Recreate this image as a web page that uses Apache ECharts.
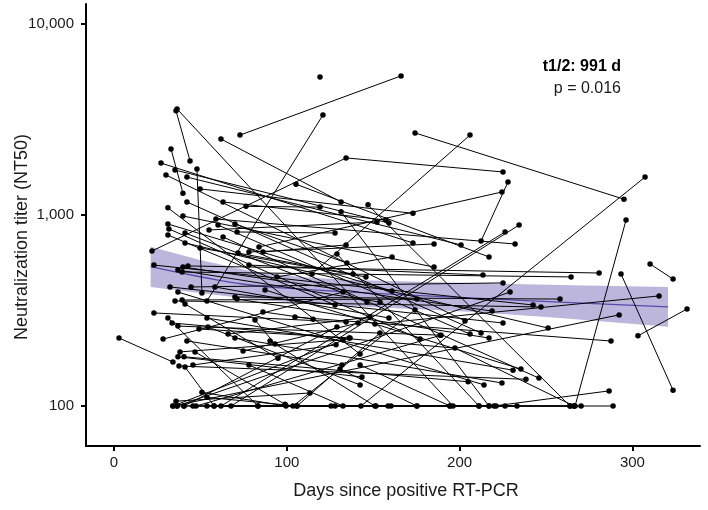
<!DOCTYPE html>
<html>
<head>
<meta charset="utf-8">
<script src="https://cdn.jsdelivr.net/npm/echarts@6/dist/echarts.min.js"></script>
<style>
  html, body { margin: 0; padding: 0; background: #fff; }
  #chart { width: 708px; height: 510px; }
</style>
</head>
<body>
<div id="chart"></div>
<script>
// Paired samples: one entry per subject, days since positive RT-PCR and NT50 titers
const subjectDays = [
  [2.9, 34.1], [22.0, 134.3, 225.1], [23.1, 242.5], [23.1, 134.3], [27.2, 173.0],
  [28.4, 132.5], [30.1, 203.1], [31.2, 142.4], [31.2, 160.9], [31.8, 177.1],
  [31.2, 127.9], [31.2, 83.3], [32.4, 225.1], [33.0, 39.9], [33.6, 197.3, 266.2],
  [35.3, 159.1], [35.3, 247.1], [35.9, 113.4], [35.9, 44.0], [36.5, 196.2],
  [37.0, 153.9], [37.0, 214.1], [37.0, 188.7], [37.0, 143.5], [37.6, 238.4],
  [38.2, 132.5], [39.4, 175.3], [39.4, 264.5], [39.9, 185.2], [39.9, 218.8],
  [40.5, 204.9], [41.1, 146.4], [41.1, 251.2], [41.1, 94.9], [41.1, 57.9],
  [42.2, 200.8], [42.2, 212.4], [42.2, 131.9], [42.8, 280.7], [44.6, 225.1],
  [45.7, 128.5], [46.9, 99.0], [48.0, 50.9], [49.2, 136.6], [49.8, 173.0],
  [49.8, 145.8], [50.9, 99.5], [53.8, 230.9], [53.8, 105.9], [54.4, 142.4],
  [55.0, 152.2], [58.4, 159.1], [59.0, 232.1], [60.2, 206.0], [61.9, 131.4],
  [63.1, 157.4], [63.1, 245.9], [66.0, 148.1], [70.0, 134.8], [70.0, 258.1],
  [70.0, 224.5], [71.2, 127.9], [71.2, 217.0], [71.8, 138.3], [72.9, 166.1],
  [74.7, 141.2], [76.4, 119.2], [78.1, 185.2], [78.1, 213.5], [78.1, 132.5],
  [81.6, 93.2], [83.9, 224.5], [86.2, 134.3], [86.2, 115.2], [87.4, 235.5],
  [90.3, 151.0], [94.3, 160.9], [104.7, 287.6], [114.6, 206.0], [53.8, 120.9],
  [174.2, 295.1], [142.9, 307.3], [266.8, 296.3], [310.2, 323.5], [293.4, 323.5],
  [303.2, 331.6], [151.0, 315.4], [219.9, 286.5], [212.4, 228.0], [105.3, 217.0],
  [61.9, 226.3], [67.7, 234.4], [34.1, 292.3], [36.5, 229.2], [47.5, 189.3],
  [103.6, 174.2], [105.9, 153.9], [40.5, 129.0], [34.1, 136.0],
  [36.5, 288.8], [40.5, 270.3], [45.7, 233.2], [53.8, 211.2], [57.9, 160.3],
  [83.3, 175.3], [125.6, 266.2], [127.9, 263.9], [151.6, 221.1], [158.6, 226.3],
  [194.4, 217.0],
  [129.0, 211.2], [131.4, 217.0], [147.0, 263.9], [142.4, 194.4], [130.8, 175.3]
];
const subjectTiters = [
  [227, 170], [648, 1990, 1680], [547, 338], [307, 275], [1870, 714],
  [224, 395], [1620, 279], [1090, 187], [897, 400], [845, 224],
  [786, 338], [289, 100], [420, 272], [2216, 1300], [272, 201, 100],
  [1720, 908], [355, 330], [106, 117], [3510, 1920], [3590, 100],
  [515, 350], [395, 129], [262, 235], [181, 142], [162, 138],
  [192, 222], [359, 363], [503, 474], [988, 534], [534, 314],
  [181, 134], [805, 350], [714, 256], [342, 178], [160, 100],
  [1580, 697], [1170, 241], [219, 164], [541, 497], [420, 441],
  [164, 209], [192, 102], [1740, 391], [253, 227], [1370, 1020],
  [672, 474], [118, 100], [289, 154], [111, 100], [259, 129],
  [835, 919], [420, 289], [953, 705], [886, 238], [2500, 1170],
  [1170, 941], [767, 140], [238, 292], [897, 561], [372, 363],
  [227, 132], [815, 805], [363, 227], [632, 491], [2620, 5350],
  [194, 272], [1110, 1100], [640, 705], [547, 485], [164, 100],
  [282, 211], [680, 1320], [640, 697], [311, 285], [405, 156],
  [219, 100], [474, 603], [292, 219], [491, 2620], [355, 3340],
  [2690, 1210], [100, 1580], [100, 941], [554, 462], [491, 121],
  [233, 322], [269, 377], [100, 120], [731, 1490], [1450, 603],
  [100, 815], [100, 886], [100, 300], [100, 395], [100, 235],
  [100, 318], [100, 241], [100, 259], [100, 227],
  [100, 100], [100, 100], [100, 100], [100, 100], [100, 100],
  [100, 100], [100, 100], [100, 100], [100, 100], [100, 100],
  [100, 100],
  [625, 100], [1040, 100], [1130, 100], [164, 100], [156, 100]
];

// Subject with a single sample
const singleDays = [119.2];
const singleTiters = [5280];

// Fitted decay curve with its confidence band
const fitDays = [21.2, 49.8, 78.7, 107.6, 136.6, 206.0, 258.1, 320.6];
const fitCenter = [536, 475, 430, 410, 395, 368, 350, 330];
const fitLower = [420, 391, 363, 346, 334, 312, 289, 260];
const fitUpper = [682, 581, 509, 474, 457, 441, 430, 420];

const xTicks = [0, 100, 200, 300];
const yTicks = [100, 1000, 10000];

const halfLifeText = 't1/2: 991 d';
const pValueText = 'p = 0.016';
const xTitle = 'Days since positive RT-PCR';
const yTitle = 'Neutralization titer (NT50)';

const FONT = '"Liberation Sans", Arial, Helvetica, sans-serif';
const TEXT = '#1a1a1a';

const chart = echarts.init(document.getElementById('chart'), null, { renderer: 'canvas' });

const series = [];

// confidence band (drawn underneath everything)
series.push({
  type: 'custom',
  silent: true,
  z: 1,
  data: [[fitDays[0], fitCenter[0]]],
  renderItem: function (params, api) {
    const pts = [];
    for (let i = 0; i < fitDays.length; i++) pts.push(api.coord([fitDays[i], fitUpper[i]]));
    for (let i = fitDays.length - 1; i >= 0; i--) pts.push(api.coord([fitDays[i], fitLower[i]]));
    return { type: 'polygon', shape: { points: pts }, style: { fill: '#bcb6dc' } };
  }
});

// fitted curve
series.push({
  type: 'line',
  silent: true,
  z: 2,
  smooth: true,
  symbol: 'none',
  lineStyle: { color: '#5a48a8', width: 1.3 },
  data: fitDays.map((d, i) => [d, fitCenter[i]])
});

// one polyline per subject
subjectDays.forEach((days, k) => {
  series.push({
    type: 'line',
    z: 3,
    symbol: 'circle',
    symbolSize: 5.5,
    showAllSymbol: true,
    lineStyle: { color: '#000', width: 1 },
    itemStyle: { color: '#000', opacity: 1 },
    data: days.map((d, j) => [d, subjectTiters[k][j]])
  });
});

series.push({
  type: 'scatter',
  z: 3,
  symbol: 'circle',
  symbolSize: 5.5,
  itemStyle: { color: '#000', opacity: 1 },
  data: singleDays.map((d, i) => [d, singleTiters[i]])
});

chart.setOption({
  animation: false,
  backgroundColor: '#fff',
  grid: { left: 86, right: 8, top: 4, bottom: 64, containLabel: false, outerBoundsMode: 'none' },
  xAxis: {
    type: 'value',
    min: -16.2,
    max: 339.1,
    splitLine: { show: false },
    axisLine: { onZero: false, lineStyle: { color: '#000', width: 2 } },
    axisTick: { length: 5, lineStyle: { color: '#000', width: 2 }, customValues: xTicks },
    axisLabel: { customValues: xTicks, fontSize: 15, color: TEXT, fontFamily: FONT, margin: 9 }
  },
  yAxis: {
    type: 'log',
    logBase: 10,
    min: 61.75,
    max: 12727,
    splitLine: { show: false },
    axisLine: { onZero: false, lineStyle: { color: '#000', width: 2 } },
    axisTick: { length: 5, lineStyle: { color: '#000', width: 2 }, customValues: yTicks },
    axisLabel: {
      customValues: yTicks,
      fontSize: 15, color: TEXT, fontFamily: FONT, margin: 12,
      formatter: v => Math.round(v).toLocaleString('en-US')
    }
  },
  graphic: [
    { type: 'text', x: 22, y: 237, rotation: Math.PI / 2,
      style: { text: yTitle, font: '18px ' + FONT, fill: TEXT, textAlign: 'center', textVerticalAlign: 'middle' } },
    { type: 'text', x: 406, y: 491,
      style: { text: xTitle, font: '18px ' + FONT, fill: TEXT, textAlign: 'center', textVerticalAlign: 'middle' } },
    { type: 'text', x: 621, y: 67,
      style: { text: halfLifeText, font: 'bold 16px ' + FONT, fill: '#000', textAlign: 'right', textVerticalAlign: 'middle' } },
    { type: 'text', x: 621, y: 89,
      style: { text: pValueText, font: '16px ' + FONT, fill: TEXT, textAlign: 'right', textVerticalAlign: 'middle' } }
  ],
  series: series
});
</script>
</body>
</html>
